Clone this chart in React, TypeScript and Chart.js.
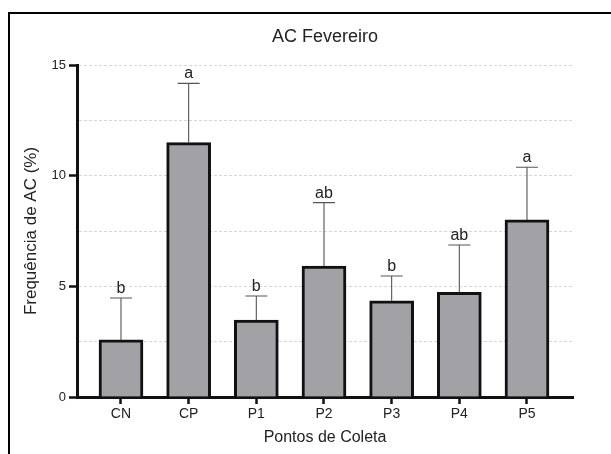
import React, { useEffect, useRef } from 'react';
import { Chart, registerables } from 'chart.js';

Chart.register(...registerables);

const categories = ['CN', 'CP', 'P1', 'P2', 'P3', 'P4', 'P5'];
const means = [2.58, 11.49, 3.48, 5.92, 4.35, 4.73, 8.0];
const errors = [1.89, 2.68, 1.08, 2.86, 1.12, 2.14, 2.38];
const letters = ['b', 'a', 'b', 'ab', 'b', 'ab', 'a'];
const yTicks = [0, 2.5, 5, 7.5, 10, 12.5, 15];

const FONT = "'Liberation Sans', Arial, Helvetica, sans-serif";

const errorBarPlugin = {
  id: 'errorBars',
  afterLayout(chart: any) {
    const tb = chart.titleBlock;
    if (tb) {
      tb.left = chart.chartArea.left;
      tb.right = chart.chartArea.right;
      tb.width = tb.right - tb.left;
    }
  },
  afterDatasetsDraw(chart: any) {
    const { ctx, scales } = chart;
    const x = scales.x;
    const y = scales.y;
    ctx.save();
    means.forEach((m, i) => {
      const cx = x.getPixelForValue(i);
      const y0 = y.getPixelForValue(m);
      const y1 = y.getPixelForValue(m + errors[i]);
      ctx.strokeStyle = '#555';
      ctx.lineWidth = 1.1;
      ctx.beginPath();
      ctx.moveTo(cx, y0);
      ctx.lineTo(cx, y1);
      ctx.moveTo(cx - 11, y1);
      ctx.lineTo(cx + 11, y1);
      ctx.stroke();
      ctx.fillStyle = '#222';
      ctx.font = `16px ${FONT}`;
      ctx.textAlign = 'center';
      ctx.textBaseline = 'alphabetic';
      ctx.fillText(letters[i], cx, y1 - 5);
    });
    ctx.restore();
  },
};

export default function App() {
  const ref = useRef<HTMLCanvasElement | null>(null);

  useEffect(() => {
    if (!ref.current) return;
    const chart = new Chart(ref.current, {
      type: 'bar',
      data: {
        datasets: [
          {
            data: means.map((m, i) => ({ x: i, y: m })) as any,
            backgroundColor: '#a2a2a6',
            borderColor: '#111',
            borderWidth: 3,
            barThickness: 44,
          },
        ],
      },
      options: {
        responsive: false,
        animation: false,
        layout: { padding: { top: 0, left: 0, right: 38, bottom: 0 } },
        plugins: {
          legend: { display: false },
          tooltip: { enabled: false },
          title: {
            display: true,
            text: 'AC Fevereiro',
            color: '#222',
            font: { family: FONT, size: 18, weight: 'normal' },
            padding: { top: 12.2, bottom: 17.2 },
          },
        },
        scales: {
          x: {
            type: 'linear',
            min: -0.65,
            max: 6.68,
            offset: false,
            z: 1,
            afterBuildTicks: (s: any) => {
              s.ticks = categories.map((_, i) => ({ value: i }));
            },
            afterFit: (s: any) => {
              s.height = 57;
            },
            ticks: {
              callback: (v: any) => categories[v as number] ?? '',
              color: '#222',
              font: { family: FONT, size: 14 },
              padding: 2,
              autoSkip: false,
              maxRotation: 0,
            },
            grid: {
              offset: false,
              drawOnChartArea: false,
              tickLength: 7,
              tickWidth: 2.5,
              tickColor: '#111',
            },
            border: { color: '#111', width: 3 },
            title: {
              display: true,
              text: 'Pontos de Coleta',
              color: '#222',
              font: { family: FONT, size: 16 },
              padding: { top: 0, bottom: 6.4 },
            },
          },
          y: {
            min: 0,
            max: 15,
            afterBuildTicks: (s: any) => {
              s.ticks = yTicks.map((v) => ({ value: v }));
            },
            afterFit: (s: any) => {
              s.width = 67;
            },
            ticks: {
              callback: (v: any) => ((v as number) % 5 === 0 ? String(v) : ''),
              color: '#222',
              font: { family: FONT, size: 13 },
              padding: 3,
            },
            grid: {
              color: '#d6d6d6',
              lineWidth: 1,
              tickLength: 8,
              tickWidth: 2.5,
              tickColor: (c: any) =>
                c.tick && c.tick.value % 5 === 0 ? '#111' : 'rgba(0,0,0,0)',
            },
            border: { color: '#111', width: 3, dash: [3, 2] },
            title: {
              display: true,
              text: 'Frequência de AC (%)',
              color: '#222',
              font: { family: FONT, size: 17 },
              padding: { top: 10.8, bottom: 0 },
            },
          },
        },
      } as any,
      plugins: [errorBarPlugin],
    });
    return () => chart.destroy();
  }, []);

  return (
    <div
      style={{
        position: 'fixed',
        left: 8,
        top: 12,
        width: 603,
        height: 442,
        boxSizing: 'border-box',
        borderLeft: '2px solid #000',
        borderTop: '2px solid #000',
        background: '#fff',
      }}
    >
      <canvas
        ref={ref}
        width={601}
        height={440}
        style={{ display: 'block', width: 601, height: 440 }}
      />
    </div>
  );
}
